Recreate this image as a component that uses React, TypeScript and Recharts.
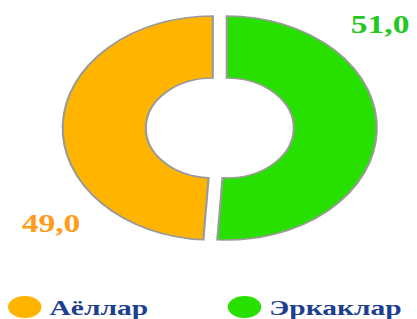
import { PieChart, Pie, Cell } from 'recharts'

const NAMES = ['Эркаклар', 'Аёллар']
const VALUES = [51.0, 49.0]
const COLORS = ['#27e000', '#ffb400']
const LABEL_COLORS = ['#22c81e', '#ff9c1c']
const LEGEND_ORDER = [1, 0]

const data = NAMES.map((name, i) => ({ name, value: VALUES[i] }))

// the source picture is stretched sideways, so the whole chart is too
const SX = 1.34
const W = 311
const H = 260
const CX = 164
const CY = 128
const SHIFT = 5.2
const FONT = '"Liberation Serif", "Times New Roman", serif'

const fmt = (v: number) => v.toFixed(1).replace('.', ',')

const makeLabel = (visible: number) => (p: any) => {
  if (p.index !== visible) return null
  const a = ((p.startAngle - 48) * Math.PI) / 180
  const r = p.outerRadius + 42
  const x = p.cx + r * Math.cos(a)
  const y = p.cy - r * Math.sin(a)
  return (
    <text
      x={x}
      y={y}
      textAnchor="middle"
      dominantBaseline="central"
      fill={LABEL_COLORS[visible]}
      fontFamily={FONT}
      fontWeight="bold"
      fontSize={25}
    >
      {fmt(p.value)}
    </text>
  )
}

export default function App() {
  const pies = [
    { visible: 0, cx: CX + SHIFT },
    { visible: 1, cx: CX - SHIFT },
  ]
  return (
    <div style={{ position: 'absolute', left: 0, top: 0, width: 417, height: 319, background: '#fff', overflow: 'hidden' }}>
      <div style={{ position: 'absolute', left: 0, top: 0, width: W, height: 319, transform: `scaleX(${SX})`, transformOrigin: '0 0' }}>
        <PieChart width={W} height={H} margin={{ top: 0, right: 0, bottom: 0, left: 0 }}>
          {pies.map(({ visible, cx }) => (
            <Pie
              key={visible}
              data={data}
              dataKey="value"
              nameKey="name"
              cx={cx}
              cy={CY}
              innerRadius={50}
              outerRadius={112}
              startAngle={90}
              endAngle={-270}
              label={makeLabel(visible)}
              labelLine={false}
              isAnimationActive={false}
            >
              {data.map((d, i) => (
                <Cell
                  key={d.name}
                  fill={i === visible ? COLORS[i] : 'transparent'}
                  stroke={i === visible ? '#9a9a9a' : 'none'}
                  strokeWidth={1.6}
                />
              ))}
            </Pie>
          ))}
        </PieChart>
        {LEGEND_ORDER.map((i, k) => (
          <div key={NAMES[i]} style={{ position: 'absolute', top: 296, left: k === 0 ? 6 : 170, display: 'flex', alignItems: 'center', height: 22 }}>
            <span style={{ width: 25, height: 22, borderRadius: '50%', background: COLORS[i], display: 'inline-block' }} />
            <span style={{ marginLeft: 6, fontFamily: FONT, fontWeight: 'bold', fontSize: 22, color: '#1c3f8f', lineHeight: '22px', position: 'relative', top: 1 }}>
              {NAMES[i]}
            </span>
          </div>
        ))}
      </div>
    </div>
  )
}
